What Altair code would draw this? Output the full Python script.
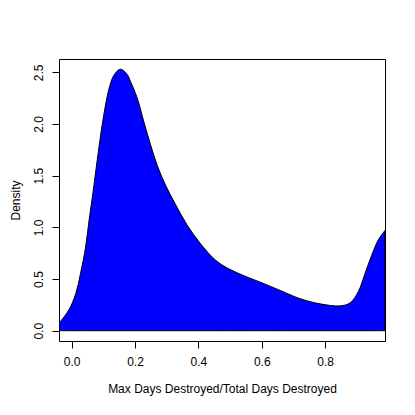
import altair as alt
import pandas as pd

x_vals = [-0.040, -0.009, 0.013, 0.028, 0.044, 0.055, 0.067, 0.078, 0.089, 0.102,
          0.117, 0.133, 0.154, 0.175, 0.186, 0.207, 0.228, 0.249, 0.270, 0.296,
          0.328, 0.365, 0.406, 0.459, 0.522, 0.595, 0.658, 0.721, 0.784, 0.847,
          0.879, 0.905, 0.926, 0.947, 0.968, 0.989]
density = [0.072, 0.20, 0.36, 0.555, 0.81, 1.07, 1.33, 1.59, 1.84, 2.10,
           2.33, 2.47, 2.53, 2.48, 2.41, 2.25, 2.02, 1.80, 1.60, 1.41,
           1.22, 1.02, 0.845, 0.67, 0.56, 0.47, 0.39, 0.31, 0.26, 0.24,
           0.27, 0.38, 0.555, 0.73, 0.88, 0.97]
x_ticks = [0.0, 0.2, 0.4, 0.6, 0.8]
y_ticks = [0.0, 0.5, 1.0, 1.5, 2.0, 2.5]

df = pd.DataFrame({"x": x_vals, "y": density})

FONT = "Liberation Sans"

chart = alt.Chart(df).mark_area(
    interpolate="catmull-rom", color="#0000FF", stroke="black", strokeWidth=1, clip=True
).encode(
    x=alt.X("x:Q", scale=alt.Scale(domain=[-0.040, 0.989], nice=False, zero=False),
            axis=alt.Axis(values=x_ticks, format=".1f", title="Max Days Destroyed/Total Days Destroyed",
                          grid=False, domain=False, tickSize=7, tickColor="black",
                          labelPadding=8, titlePadding=16, labelFont=FONT, titleFont=FONT,
                          labelFontSize=12, titleFontSize=12, titleFontWeight="normal",
                          labelColor="black", titleColor="black")),
    y=alt.Y("y:Q", scale=alt.Scale(domain=[-0.0996, 2.629], nice=False, zero=False),
            axis=alt.Axis(values=y_ticks, format=".1f", title="Density",
                          grid=False, domain=False, tickSize=7, tickColor="black",
                          labelAngle=270, labelAlign="center", labelBaseline="bottom",
                          labelPadding=7, titlePadding=10, labelFont=FONT, titleFont=FONT,
                          labelFontSize=12, titleFontSize=12, titleFontWeight="normal",
                          labelColor="black", titleColor="black")),
    y2=alt.datum(0),
).properties(
    width=326, height=282,
    autosize=alt.AutoSizeParams(type="none"),
    padding={"left": 51, "top": 51, "right": 22, "bottom": 60},
).configure_view(stroke="black", strokeWidth=1)

chart.save("out.html", embed_options={"renderer": "svg", "actions": False})
